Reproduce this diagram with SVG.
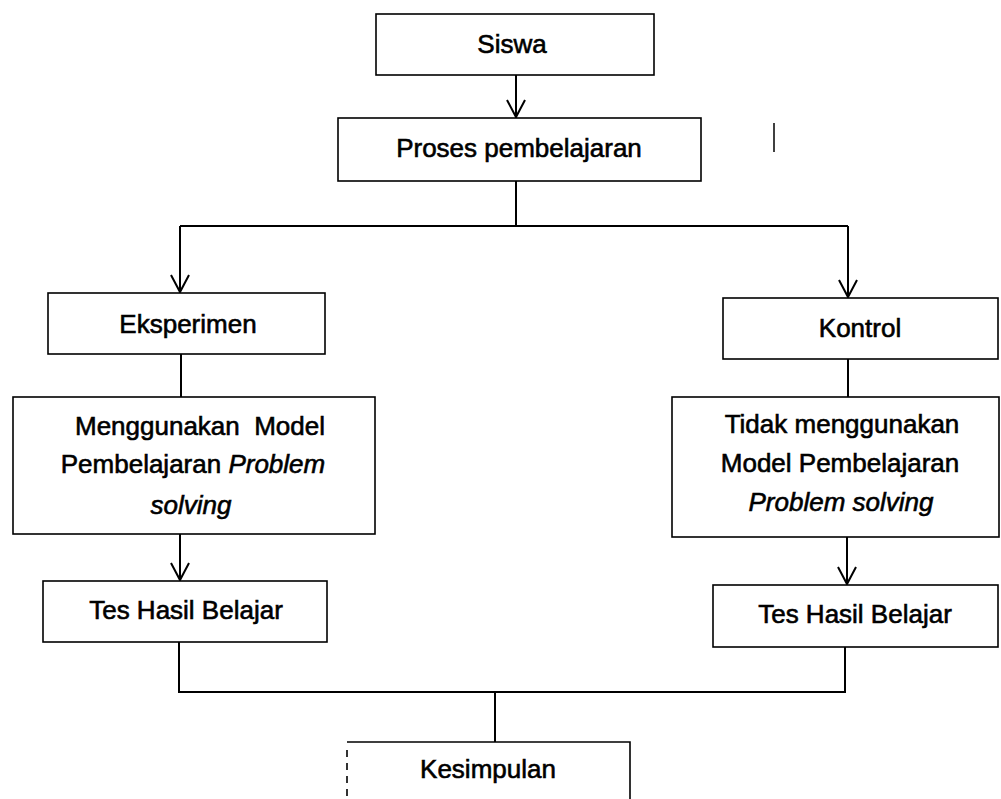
<svg xmlns="http://www.w3.org/2000/svg" width="1001" height="799" viewBox="0 0 1001 799">
<style>
.box{fill:#fff;stroke:#000;stroke-width:1.6}
.t{font-family:"Liberation Sans",Arial,sans-serif;font-size:26px;fill:#000;stroke:#000;stroke-width:0.6;text-anchor:middle}
.i{font-style:italic}
.c{fill:none;stroke:#000;stroke-width:2}
</style>
<defs>
<marker id="arr" viewBox="-19 -11 22 22" refX="0" refY="0" markerWidth="22" markerHeight="22" markerUnits="userSpaceOnUse" orient="auto">
<path d="M-17,-9 L0,0 L-17,9" fill="none" stroke="#000" stroke-width="2"/>
</marker>
</defs>
<rect width="1001" height="799" fill="#fff"/>
<g id="connectors">
<line class="c" x1="516" y1="75" x2="516" y2="117" marker-end="url(#arr)"/>
<path class="c" d="M516,181 V226"/>
<path class="c" d="M180,226 H848"/>
<line class="c" x1="180" y1="226" x2="180" y2="292" marker-end="url(#arr)"/>
<line class="c" x1="848" y1="226" x2="848" y2="297" marker-end="url(#arr)"/>
<path class="c" d="M181,354 V397"/>
<path class="c" d="M848,359 V397"/>
<line class="c" x1="180" y1="534" x2="180" y2="580" marker-end="url(#arr)"/>
<line class="c" x1="847" y1="537" x2="847" y2="584" marker-end="url(#arr)"/>
<path class="c" d="M179,642 V692 H845 V647"/>
<path class="c" d="M495,692 V742"/>
</g>
<g id="siswa">
<rect class="box" x="376" y="14" width="278" height="61"/>
<text class="t" x="512" y="53">Siswa</text>
</g>
<g id="proses">
<rect class="box" x="338" y="118" width="363" height="63"/>
<text class="t" x="519" y="157">Proses pembelajaran</text>
</g>
<g id="eksperimen">
<rect class="box" x="48" y="293" width="277" height="61"/>
<text class="t" x="188" y="333">Eksperimen</text>
</g>
<g id="kontrol">
<rect class="box" x="723" y="298" width="275" height="61"/>
<text class="t" x="860" y="337">Kontrol</text>
</g>
<g id="menggunakan">
<rect class="box" x="13" y="397" width="362" height="137"/>
<text class="t" x="200" y="435" xml:space="preserve">Menggunakan  Model</text>
<text class="t" x="193" y="473">Pembelajaran <tspan class="i">Problem</tspan></text>
<text class="t i" x="191" y="514">solving</text>
</g>
<g id="tidak">
<rect class="box" x="672" y="397" width="327" height="140"/>
<text class="t" x="842" y="433">Tidak menggunakan</text>
<text class="t" x="840" y="472">Model Pembelajaran</text>
<text class="t i" x="841" y="511">Problem solving</text>
</g>
<g id="tes-eksperimen">
<rect class="box" x="43" y="581" width="284" height="61"/>
<text class="t" x="186" y="619">Tes Hasil Belajar</text>
</g>
<g id="tes-kontrol">
<rect class="box" x="713" y="585" width="285" height="62"/>
<text class="t" x="855" y="623">Tes Hasil Belajar</text>
</g>
<g id="kesimpulan">
<path d="M347,742 H630 V800" fill="none" stroke="#000" stroke-width="1.6"/>
<path d="M347,750 V800" fill="none" stroke="#000" stroke-width="1.6" stroke-dasharray="7,6"/>
<text class="t" x="488" y="778">Kesimpulan</text>
</g>
<line x1="774" y1="123" x2="774" y2="152" stroke="#000" stroke-width="1.5"/>
</svg>
